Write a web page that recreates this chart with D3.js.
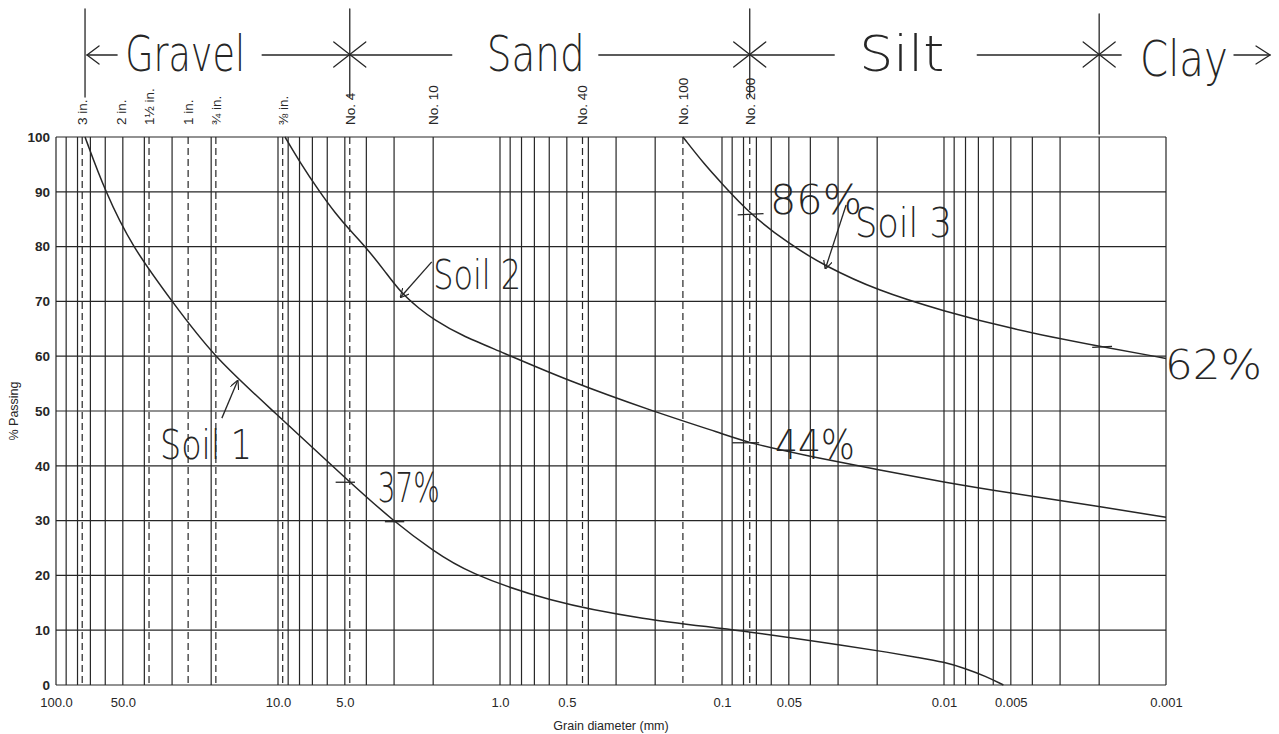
<!DOCTYPE html>
<html>
<head>
<meta charset="utf-8">
<script src="https://cdn.jsdelivr.net/npm/d3@7"></script>
<style>
  body { margin: 0; background: #fff; }
  svg { display: block; }
</style>
</head>
<body>
<svg width="1279" height="734"></svg>
<script>
const width = 1279;
const height = 734;

// sieve openings (mm) and the labels printed above the chart
const sieveSizes = [76.2, 50.8, 38.1, 25.4, 19.05, 9.525, 4.75, 2.0, 0.425, 0.15, 0.075];
const sieveLabels = ['3 in.', '2 in.', '1½ in.', '1 in.', '¾ in.', '⅜ in.', 'No. 4', 'No. 10', 'No. 40', 'No. 100', 'No. 200'];

const xTickValues = [100, 50, 10, 5, 1, 0.5, 0.1, 0.05, 0.01, 0.005, 0.001];
const xTickLabels = ['100.0', '50.0', '10.0', '5.0', '1.0', '0.5', '0.1', '0.05', '0.01', '0.005', '0.001'];
const yTickValues = [0, 10, 20, 30, 40, 50, 60, 70, 80, 90, 100];

// grading curves: grain diameter (mm) vs % passing
const soil1Diam = [74, 60, 45.5, 30, 19.6, 10.5, 4.75, 3.0, 2.0, 1.4, 0.6, 0.23, 0.083, 0.0263, 0.018, 0.013, 0.01, 0.008, 0.0065, 0.0054];
const soil1Pass = [100, 90, 80, 70, 60, 50, 37, 29.8, 24.5, 20.5, 15.2, 12, 10, 7, 6, 5, 4.2, 3, 1.6, 0];

const soil2Diam = [9.3, 8, 6.5, 5.5, 4.75, 4, 3.3, 2.8, 2.3, 2, 1.5, 1, 0.5, 0.2, 0.1, 0.075, 0.04, 0.02, 0.01, 0.005, 0.002, 0.001];
const soil2Pass = [100, 95.5, 90, 86, 83, 79.8, 75.5, 71.6, 68.6, 66.8, 63.8, 60.9, 55.6, 49.8, 45.9, 44.1, 41.7, 39.3, 37, 35, 32.6, 30.6];

const soil3Diam = [0.15, 0.12, 0.1, 0.075, 0.05, 0.0345, 0.02, 0.01, 0.005, 0.002, 0.001];
const soil3Pass = [100, 95, 91.5, 86, 80.5, 76.5, 72, 68.2, 65, 61.8, 59.6];

// soil classes and their boundaries (mm) drawn across the top
const classNames = ['Gravel', 'Sand', 'Silt', 'Clay'];
const classBounds = [74, 4.75, 0.075, 0.002];
const classCenters = [26.2, 0.69, 0.0155, 0.00083];

// handwritten notes (diameter, % passing)
const noteText = ['Soil 1', '37%', 'Soil 2', '44%', '86%', 'Soil 3', '62%'];
const noteDiam = [34, 3.55, 2.0, 0.0577, 0.0608, 0.0252, 0.00101];
const notePass = [41.3, 33.4, 72.3, 41.2, 86.0, 81.7, 55.8];

const arrowFrom = [[17.9, 48.7], [2.03, 77.2], [0.0276, 87.6]];
const arrowTo = [[15.2, 55.5], [2.8, 70.8], [0.0342, 76.0]];
const tickFrom = [[5.5, 37.0], [3.3, 29.8], [0.09, 44.2], [0.085, 85.8], [0.00215, 61.6]];
const tickTo = [[4.5, 37.0], [2.7, 29.8], [0.068, 44.2], [0.065, 86.0], [0.00175, 61.8]];

const x = d3.scaleLog().domain([100, 0.001]).range([56, 1166]);
const y = d3.scaleLinear().domain([0, 100]).range([685, 137]);

const ink = '#262626';
const hand = '"DejaVu Sans", sans-serif';
const print = '"Liberation Sans", Arial, sans-serif';

const svg = d3.select('svg');
svg.append('rect').attr('width', width).attr('height', height).attr('fill', '#fff');

svg.append('defs').append('marker')
    .attr('id', 'head')
    .attr('viewBox', '0 0 10 10')
    .attr('refX', 9).attr('refY', 5)
    .attr('markerWidth', 9).attr('markerHeight', 9)
    .attr('markerUnits', 'userSpaceOnUse')
    .attr('orient', 'auto')
    .append('path')
    .attr('d', 'M0,0L10,5L0,10')
    .attr('fill', 'none')
    .attr('stroke', ink)
    .attr('stroke-width', 1.3);

// grid
const grid = svg.append('g').attr('stroke', ink).attr('stroke-width', 1.2);
grid.selectAll('line.v')
    .data(x.ticks())
    .join('line')
    .attr('class', 'v')
    .attr('x1', d => x(d)).attr('x2', d => x(d))
    .attr('y1', y(100)).attr('y2', y(0));
grid.selectAll('line.h')
    .data(yTickValues)
    .join('line')
    .attr('class', 'h')
    .attr('x1', x(100)).attr('x2', x(0.001))
    .attr('y1', d => y(d)).attr('y2', d => y(d));

// sieve lines, dashed where they don't sit on a grid line
const onGrid = s => x.ticks().some(t => Math.abs(x(t) - x(s)) < 2);
grid.selectAll('line.sieve')
    .data(sieveSizes.filter(s => !onGrid(s)))
    .join('line')
    .attr('class', 'sieve')
    .attr('x1', d => x(d)).attr('x2', d => x(d))
    .attr('y1', y(100)).attr('y2', y(0))
    .attr('stroke-dasharray', '7,4');

// sieve labels
svg.append('g')
    .attr('font-family', print)
    .attr('font-size', 13.5)
    .attr('fill', ink)
    .selectAll('text')
    .data(sieveSizes)
    .join('text')
    .attr('transform', d => `translate(${x(d) + 5},125) rotate(-90)`)
    .text((d, i) => sieveLabels[i]);

// axes
svg.append('g')
    .attr('transform', `translate(0,${y(0)})`)
    .call(d3.axisBottom(x).tickValues(xTickValues)
        .tickFormat((d, i) => xTickLabels[i]).tickSize(0).tickPadding(13))
    .call(g => g.select('.domain').remove())
    .call(g => g.selectAll('text')
        .attr('font-family', print)
        .attr('font-size', 13).attr('fill', ink));

svg.append('g')
    .attr('transform', `translate(${x(100)},0)`)
    .call(d3.axisLeft(y).tickValues(yTickValues).tickSize(0).tickPadding(6))
    .call(g => g.select('.domain').remove())
    .call(g => g.selectAll('text')
        .attr('font-family', print)
        .attr('font-size', 13.5).attr('font-weight', 'bold').attr('fill', ink));

svg.append('text')
    .attr('x', (x(100) + x(0.001)) / 2).attr('y', 730)
    .attr('text-anchor', 'middle')
    .attr('font-family', print)
    .attr('font-size', 12.5).attr('fill', ink)
    .text('Grain diameter (mm)');

svg.append('text')
    .attr('transform', `translate(18,${(y(0) + y(100)) / 2}) rotate(-90)`)
    .attr('text-anchor', 'middle')
    .attr('font-family', print)
    .attr('font-size', 12.5).attr('fill', ink)
    .text('% Passing');

// curves
const line = d3.line()
    .x(d => x(d[0]))
    .y(d => y(d[1]))
    .curve(d3.curveBasis);

[[soil1Diam, soil1Pass], [soil2Diam, soil2Pass], [soil3Diam, soil3Pass]].forEach(([ds, ps]) => {
  svg.append('path')
      .datum(ds.map((d, i) => [d, ps[i]]))
      .attr('fill', 'none')
      .attr('stroke', ink)
      .attr('stroke-width', 1.5)
      .attr('d', line);
});

// class header, hand drawn
const head = svg.append('g')
    .attr('stroke', ink).attr('stroke-width', 1.3).attr('fill', 'none')
    .attr('stroke-linecap', 'round');
const hy = 55;
classBounds.forEach((b, i) => {
  const bx = x(b);
  head.append('line').attr('x1', bx).attr('x2', bx)
      .attr('y1', i === 3 ? 14 : 9).attr('y2', i === 3 ? 134 : 97);
  if (i > 0) {
    head.append('line').attr('x1', bx - 16).attr('x2', bx + 16).attr('y1', hy - 13).attr('y2', hy + 12);
    head.append('line').attr('x1', bx - 16).attr('x2', bx + 16).attr('y1', hy + 12).attr('y2', hy - 13);
  }
});
const textWidths = [120, 98, 85, 88];
const segs = [
  [x(classBounds[0]) + 2, x(classCenters[0]) - textWidths[0] / 2 - 8],
  [x(classCenters[0]) + textWidths[0] / 2 + 17, x(classCenters[1]) - textWidths[1] / 2 - 35],
  [x(classCenters[1]) + textWidths[1] / 2 + 14, x(classCenters[2]) - textWidths[2] / 2 - 25],
  [x(classCenters[2]) + textWidths[2] / 2 + 33, x(classBounds[3]) + 22],
  [x(classCenters[3]) + textWidths[3] / 2 + 6, 1270]
];
segs.forEach(([a, b]) => head.append('line').attr('x1', a).attr('x2', b).attr('y1', hy).attr('y2', hy));
head.append('path')
    .attr('d', `M${segs[0][0] + 12},${hy - 9}L${segs[0][0]},${hy}L${segs[0][0] + 12},${hy + 9}`);
head.append('path')
    .attr('d', `M1256,${hy - 9}L1270,${hy}L1256,${hy + 9}`);

svg.append('g')
    .attr('font-family', hand).attr('font-weight', 200)
    .attr('font-size', 50).attr('fill', ink)
    .selectAll('text')
    .data(classNames)
    .join('text')
    .attr('x', (d, i) => x(classCenters[i]) - textWidths[i] / 2)
    .attr('y', (d, i) => i === 3 ? 76 : 71)
    .attr('textLength', (d, i) => textWidths[i])
    .attr('lengthAdjust', 'spacingAndGlyphs')
    .text(d => d);

// notes on the curves
const noteWidths = [92, 62, 88, 80, 92, 97, 97];
svg.append('g')
    .attr('font-family', hand).attr('font-weight', 200)
    .attr('font-size', 40).attr('fill', ink)
    .selectAll('text')
    .data(noteText)
    .join('text')
    .attr('x', (d, i) => x(noteDiam[i]))
    .attr('y', (d, i) => y(notePass[i]))
    .attr('textLength', (d, i) => noteWidths[i])
    .attr('lengthAdjust', 'spacingAndGlyphs')
    .text(d => d);

const marks = svg.append('g').attr('stroke', ink).attr('stroke-width', 1.3).attr('fill', 'none');
arrowFrom.forEach((f, i) => {
  marks.append('line')
      .attr('x1', x(f[0])).attr('y1', y(f[1]))
      .attr('x2', x(arrowTo[i][0])).attr('y2', y(arrowTo[i][1]))
      .attr('marker-end', 'url(#head)');
});
tickFrom.forEach((f, i) => {
  marks.append('line')
      .attr('x1', x(f[0])).attr('y1', y(f[1]))
      .attr('x2', x(tickTo[i][0])).attr('y2', y(tickTo[i][1]));
});
</script>
</body>
</html>
